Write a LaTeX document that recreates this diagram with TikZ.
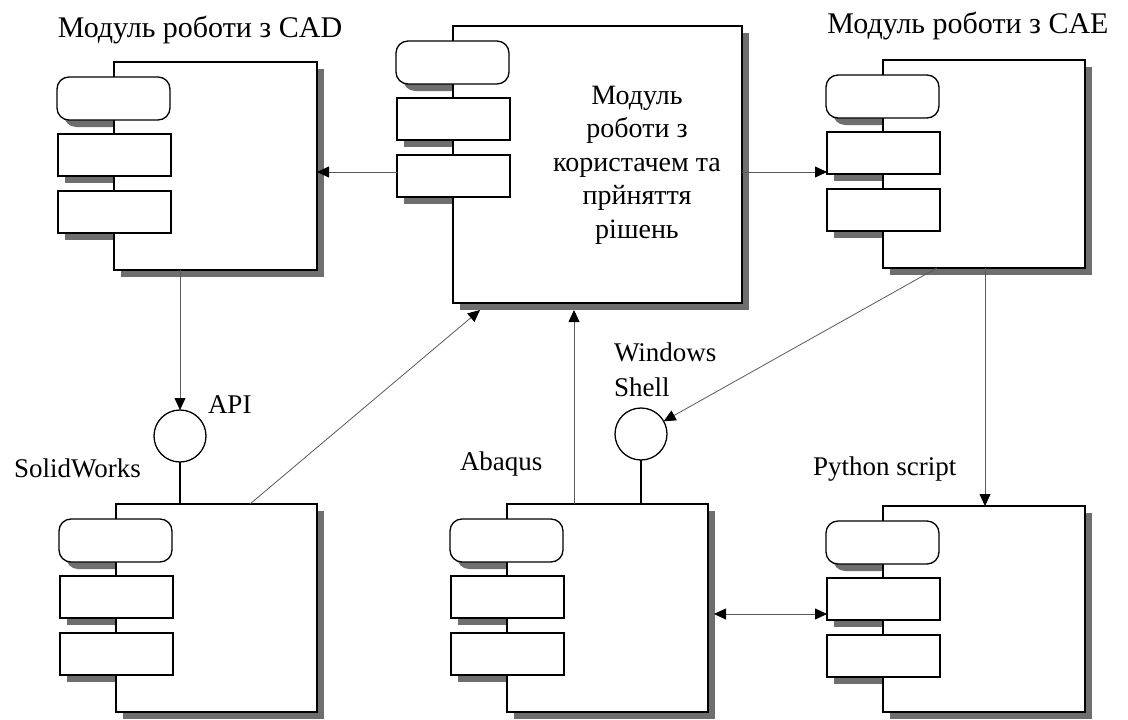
\documentclass[tikz,border=0pt]{standalone}
\usepackage{fontspec}
\setmainfont{Liberation Serif}
\usetikzlibrary{arrows.meta}
\definecolor{shcol}{HTML}{6E6E6E}
\definecolor{conncol}{HTML}{5A5A5A}
\tikzset{
  box/.style={draw=black, line width=1.3pt, fill=white, inner sep=0pt, outer sep=0pt},
  conn/.style={draw=conncol, line width=0.8pt},
  arr/.style={-{Triangle[length=12pt,width=11pt,color=black]}},
  dbl/.style={{Triangle[length=12pt,width=11pt,color=black]}-{Triangle[length=12pt,width=11pt,color=black]}},
  stem/.style={draw=black, line width=1.3pt},
  iface/.style={circle, draw=black, line width=1.3pt, fill=white, minimum size=52pt, inner sep=0pt, outer sep=0pt},
  lbl/.style={inner sep=0pt, outer sep=0pt, font=\fontsize{27}{33}\selectfont},
  title/.style={lbl, font=\fontsize{30}{36}\selectfont},
}
\newcommand\modul[5]{%
  \fill[shcol, rounded corners=12pt] (#2-50,#3+22) rectangle ++(113,43);
  \fill[shcol] (#2-49,#3+79) rectangle ++(113,42);
  \fill[shcol] (#2-49,#3+136) rectangle ++(113,42);
  \fill[shcol] (#2+7,#3+7) rectangle ++(#4,#5);
  \node[box, minimum width=#4pt, minimum height=#5pt, anchor=north west] (#1) at (#2,#3) {};
  \node[box, rounded corners=12pt, minimum width=113pt, minimum height=43pt, anchor=north west] (#1-r) at (#2-57,#3+15) {};
  \node[box, minimum width=113pt, minimum height=42pt, anchor=north west] (#1-a) at (#2-56,#3+72) {};
  \node[box, minimum width=113pt, minimum height=42pt, anchor=north west] (#1-b) at (#2-56,#3+129) {};
}
\begin{document}
\begin{tikzpicture}[x=1pt, y=-1pt]
\useasboundingbox[fill=white] (0,0) rectangle (1128,720);

% modules
\modul{cad}{114}{62}{203}{208}
\modul{cen}{453}{26}{289}{277}
\modul{cae}{883}{60}{202}{208}
\modul{sw}{116}{504}{201}{208}
\modul{aba}{507}{504}{201}{208}
\modul{py}{883}{506}{202}{206}

% interfaces
\node[iface] (api) at (180,436) {};
\node[iface] (ws) at (641,434) {};

% texts
\node[lbl, align=center, font=\fontsize{28}{33.5}\selectfont] (ctext) at (637,165)
  {Модуль\\роботи з\\користачем та\\прйняття\\рішень};
\node[title, anchor=base] (lcad) at (200,37) {Модуль роботи з CAD};
\node[title, anchor=base] (lcae) at (968,33) {Модуль роботи з CAE};
\node[lbl, anchor=base west] (lapi) at (208,413) {API};
\node[lbl, anchor=base west] (lsw) at (14,477) {SolidWorks};
\node[lbl, anchor=north west, align=left, font=\fontsize{27}{35}\selectfont] (lws) at (614,343) {Windows\\Shell};
\node[lbl, anchor=base west] (laba) at (460,470) {Abaqus};
\node[lbl, anchor=base west] (lpy) at (813,475) {Python script};

% helper coordinates
\coordinate (yl) at (0,172);
\coordinate (swo) at (250,504);
\coordinate (ceni) at (480,310);
\coordinate (abao) at (574,504);
\coordinate (caeo1) at (937,268);
\coordinate (caeo2) at (985,268);
\coordinate (dbo) at (714,614);

% connectors
\draw[conn, arr] (cen-b.west |- yl) -- (cad.east |- yl);
\draw[conn, arr] (cen.east |- yl) -- (cae-a.west |- yl);
\draw[conn, arr] (cad.south -| api) -- (api);
\draw[stem] (api) -- (sw.north -| api);
\draw[conn, arr] (swo) -- (ceni);
\draw[conn, arr] (abao) -- (abao |- ceni);
\draw[stem] (ws) -- (ws |- aba.north);
\draw[conn, arr] (caeo1) -- (ws);
\draw[conn, arr] (caeo2) -- (caeo2 |- py.north);
\draw[conn, dbl] (dbo) -- (dbo -| py-a.west);
\end{tikzpicture}
\end{document}
